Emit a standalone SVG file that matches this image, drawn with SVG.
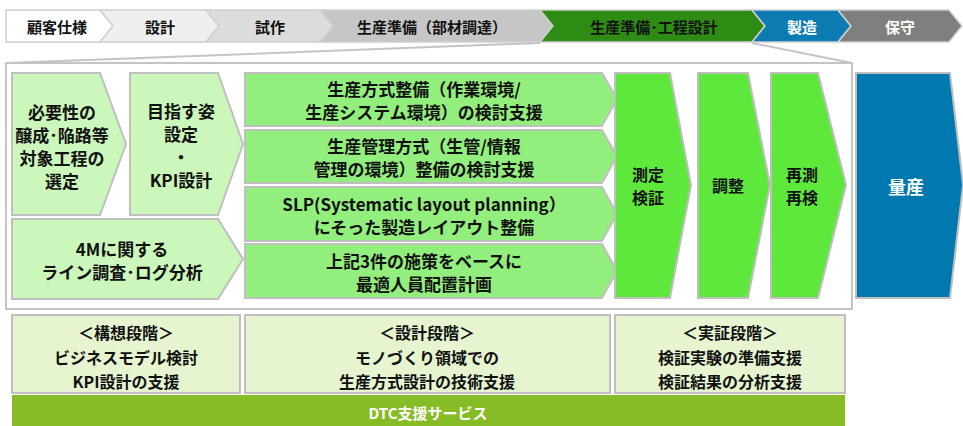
<svg xmlns="http://www.w3.org/2000/svg" width="963" height="426" viewBox="0 0 963 426">
<style>
text{font-family:"Noto Sans CJK JP","Noto Sans",sans-serif;font-weight:bold;text-anchor:middle;dominant-baseline:central;fill:#111}
.st{stroke:#d0d0d0;stroke-width:1.5}
.bx{stroke:#bfbfbf;stroke-width:2}
.t15{font-size:15px}
.t16{font-size:16px}
.t17{font-size:17px}
.w{fill:#fff}
.lg{fill:#ccf7bb}
.mg{fill:#93ef7d}
.bg{fill:#5fe83c}
.bt{fill:#e6f5d0}
</style>
<rect width="963" height="426" fill="#fff"/>
<g id="stage-bar">
<g id="stage1"><polygon class="st" fill="#ffffff" points="6,10 100,10 113,26 100,42 6,42"/><text class="t15" x="57" y="26">顧客仕様</text></g>
<g id="stage2"><polygon class="st" fill="#efefef" points="100,10 206,10 219,26 206,42 100,42 113,26"/><text class="t15" x="160" y="26">設計</text></g>
<g id="stage3"><polygon class="st" fill="#dcdcdc" points="206,10 320,10 333,26 320,42 206,42 219,26"/><text class="t15" x="270" y="26">試作</text></g>
<g id="stage4"><polygon class="st" fill="#c6c6c6" points="320,10 540,10 553,26 540,42 320,42 333,26"/><text class="t15" x="432" y="26">生産準備（部材調達）</text></g>
<g id="stage5"><polygon class="st" fill="#2e8b14" points="540,10 752,10 765,26 752,42 540,42 553,26"/><text class="t15" x="654" y="26">生産準備･工程設計</text></g>
<g id="stage6"><polygon class="st" fill="#0b7bb2" points="752,10 838,10 851,26 838,42 752,42 765,26"/><text class="t15 w" x="802" y="26">製造</text></g>
<g id="stage7"><polygon class="st" fill="#7f7f7f" points="838,10 949,10 962,26 949,42 838,42 851,26"/><text class="t15 w" x="900" y="26">保守</text></g>
</g>
<g id="connectors" stroke="#c4c4c4" stroke-width="2" fill="none">
<line x1="540" y1="43" x2="6" y2="63"/>
<line x1="752" y1="43" x2="852" y2="63"/>
</g>
<g id="detail-frame"><rect x="6" y="63" width="846" height="246" fill="#fff" stroke="#c4c4c4" stroke-width="2"/></g>
<g id="nodeA"><polygon class="bx lg" points="12,73 100,73 126,144 100,215 12,215"/>
<text class="t17" x="62" y="111">必要性の</text><text class="t17" x="62" y="134">醸成･陥路等</text><text class="t17" x="62" y="157">対象工程の</text><text class="t17" x="62" y="180">選定</text></g>
<g id="nodeB"><polygon class="bx lg" points="130,73 218,73 243,144 218,215 130,215"/>
<text class="t17" x="181" y="110">目指す姿</text><text class="t17" x="181" y="133">設定</text><text class="t17" x="181" y="156">・</text><text class="t17" x="181" y="179">KPI設計</text></g>
<g id="nodeC"><polygon class="bx lg" points="12,219 218,219 243,259 218,299 12,299"/>
<text class="t17" x="122" y="248">4Mに関する</text><text class="t17" x="122" y="271">ライン調査･ログ分析</text></g>
<g id="nodeD1"><polygon class="bx mg" points="245,73 602,73 617,99 602,126 245,126"/>
<text class="t17" x="424" y="88">生産方式整備（作業環境/</text><text class="t17" x="424" y="111">生産システム環境）の検討支援</text></g>
<g id="nodeD2"><polygon class="bx mg" points="245,130 602,130 617,156 602,183 245,183"/>
<text class="t17" x="424" y="145">生産管理方式（生管/情報</text><text class="t17" x="424" y="168">管理の環境）整備の検討支援</text></g>
<g id="nodeD3"><polygon class="bx mg" points="245,187 602,187 617,214 602,241 245,241"/>
<text class="t17" x="424" y="203">SLP(Systematic layout planning）</text><text class="t17" x="424" y="226">にそった製造レイアウト整備</text></g>
<g id="nodeD4"><polygon class="bx mg" points="245,244 602,244 617,271 602,298 245,298"/>
<text class="t17" x="424" y="260">上記3件の施策をベースに</text><text class="t17" x="424" y="283">最適人員配置計画</text></g>
<g id="nodeE"><polygon class="bx bg" points="615,73 670,73 691,185 670,298 615,298"/>
<text class="t16" x="648" y="174">測定</text><text class="t16" x="648" y="197">検証</text></g>
<g id="nodeF"><polygon class="bx bg" points="698,73 748,73 770,185 748,298 698,298"/>
<text class="t16" x="728" y="185">調整</text></g>
<g id="nodeG"><polygon class="bx bg" points="771,73 818,73 846,185 818,298 771,298"/>
<text class="t16" x="802" y="174">再測</text><text class="t16" x="802" y="197">再検</text></g>
<g id="nodeH"><polygon class="bx" fill="#0079b0" points="856,73 950,73 963,185 950,298 856,298"/>
<text class="w" font-size="18" x="906" y="186">量産</text></g>
<g id="phase1"><rect class="bx bt" x="12" y="315" width="228" height="78"/>
<text class="t16" x="126" y="332">＜構想段階＞</text><text class="t16" x="126" y="357">ビジネスモデル検討</text><text class="t16" x="126" y="381">KPI設計の支援</text></g>
<g id="phase2"><rect class="bx bt" x="245" y="315" width="365" height="78"/>
<text class="t16" x="427" y="332">＜設計段階＞</text><text class="t16" x="427" y="357">モノづくり領域での</text><text class="t16" x="427" y="381">生産方式設計の技術支援</text></g>
<g id="phase3"><rect class="bx bt" x="615" y="315" width="230" height="78"/>
<text class="t16" x="730" y="332">＜実証段階＞</text><text class="t16" x="730" y="357">検証実験の準備支援</text><text class="t16" x="730" y="381">検証結果の分析支援</text></g>
<g id="service-bar"><rect x="12" y="395" width="833" height="31" fill="#86bc25"/>
<text class="t15 w" x="428" y="412">DTC支援サービス</text></g>
</svg>
